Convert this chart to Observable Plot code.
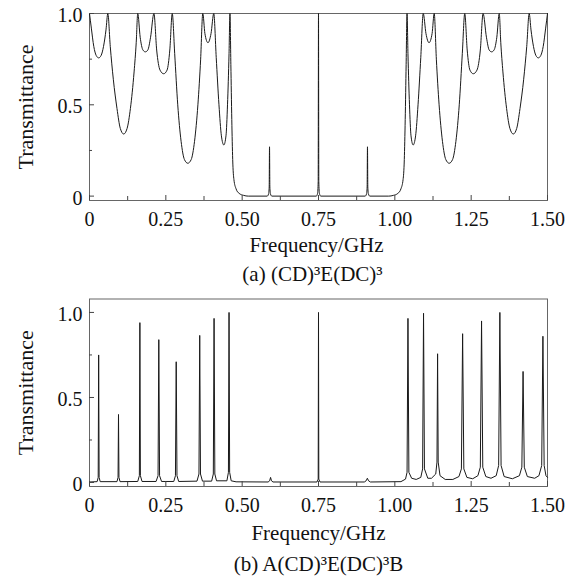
<!DOCTYPE html>
<html>
<head>
<meta charset="utf-8">
<script src="https://cdn.jsdelivr.net/npm/d3@7"></script>
<script src="https://cdn.jsdelivr.net/npm/@observablehq/plot@0.6"></script>
<style>
  html, body { margin: 0; padding: 0; background: #fff; }
  #chart svg { display: block; font-family: "Liberation Serif", "Times New Roman", serif !important; }
  #chart svg text { font-family: "Liberation Serif", "Times New Roman", serif !important; }
</style>
</head>
<body>
<div id="chart"></div>
<script>
// ---------- data ----------
// Panel (a): (CD)^3E(DC)^3 transmittance spectrum
const freqA = [
  0.000,0.006,0.014,0.022,0.030,0.038,0.046,0.054,0.060,
  0.068,0.078,0.090,0.101,0.112,0.123,0.134,0.146,0.153,0.158,
  0.166,0.175,0.183,0.191,0.200,0.211,
  0.220,0.231,0.243,0.254,0.263,0.271,
  0.279,0.289,0.300,0.311,0.322,0.333,0.344,0.355,0.364,0.371,
  0.378,0.388,0.398,0.407,
  0.415,0.424,0.432,0.440,0.447,0.452,0.457,0.460,
  0.463,0.466,0.469,0.473,0.480,0.490,0.505,0.520,
  0.582,0.5865,0.5885,0.5896,0.5907,0.5927,0.597,
  0.743,0.747,0.749,0.750,0.751,0.753,0.757,
  0.903,0.9073,0.9093,0.9104,0.9115,0.9135,0.918,
  0.980,0.995,1.010,1.020,1.027,1.031,1.034,1.037,1.040,
  1.043,1.048,1.053,1.060,1.068,1.076,1.085,1.093,
  1.102,1.112,1.122,1.129,
  1.136,1.145,1.156,1.167,1.178,1.189,1.200,1.211,1.221,1.229,
  1.237,1.246,1.257,1.269,1.280,1.289,
  1.300,1.309,1.317,1.325,1.334,1.342,
  1.347,1.354,1.366,1.377,1.388,1.399,1.410,1.422,1.432,1.440,
  1.446,1.454,1.462,1.470,1.478,1.486,1.494,1.500
];
const transA = [
  1.00,0.92,0.82,0.77,0.757,0.77,0.82,0.91,1.00,
  0.82,0.64,0.48,0.37,0.34,0.37,0.48,0.68,0.84,1.00,
  0.87,0.80,0.79,0.80,0.87,1.00,
  0.80,0.69,0.67,0.69,0.80,1.00,
  0.78,0.50,0.30,0.20,0.18,0.20,0.30,0.50,0.75,1.00,
  0.89,0.84,0.89,1.00,
  0.76,0.50,0.33,0.28,0.33,0.50,0.78,1.00,
  0.72,0.42,0.20,0.09,0.04,0.015,0.004,0.0,
  0.0,0.012,0.05,0.27,0.05,0.012,0.0,
  0.0,0.015,0.08,1.00,0.08,0.015,0.0,
  0.0,0.012,0.05,0.27,0.05,0.012,0.0,
  0.0,0.004,0.015,0.04,0.09,0.20,0.42,0.72,1.00,
  0.78,0.50,0.33,0.28,0.33,0.50,0.76,1.00,
  0.89,0.84,0.89,1.00,
  0.75,0.50,0.30,0.20,0.18,0.20,0.30,0.50,0.78,1.00,
  0.80,0.69,0.67,0.69,0.80,1.00,
  0.87,0.80,0.79,0.80,0.87,1.00,
  0.84,0.68,0.48,0.37,0.34,0.37,0.48,0.64,0.82,1.00,
  0.91,0.82,0.77,0.757,0.77,0.82,0.92,1.00
];

// Panel (b): A(CD)^3E(DC)^3B transmittance spectrum
const freqB = [
  0.000,0.025,0.0285,0.030,0.0315,0.035,
  0.090,0.0935,0.095,0.0965,0.100,
  0.158,0.1633,0.165,0.1667,0.172,
  0.218,0.2245,0.227,0.2295,0.236,
  0.276,0.2815,0.284,0.2865,0.292,
  0.352,0.3585,0.361,0.3635,0.370,
  0.400,0.4055,0.408,0.4105,0.416,
  0.450,0.455,0.457,0.459,0.464,
  0.480,0.585,0.590,0.593,0.596,0.601,
  0.745,0.749,0.750,0.751,0.755,
  0.900,0.906,0.910,0.914,0.920,
  1.020,1.035,1.040,1.043,1.046,1.055,
  1.070,1.085,1.091,1.094,1.097,1.108,
  1.120,1.134,1.138,1.140,1.142,1.148,
  1.165,1.190,1.210,1.218,1.222,1.226,1.236,
  1.255,1.272,1.280,1.284,1.288,1.298,
  1.315,1.332,1.340,1.344,1.348,1.358,
  1.385,1.408,1.416,1.420,1.424,1.434,
  1.458,1.472,1.481,1.485,1.489,1.495,1.500
];
const transB = [
  0.003,0.005,0.03,0.75,0.03,0.005,
  0.005,0.03,0.40,0.03,0.005,
  0.006,0.04,0.94,0.04,0.006,
  0.006,0.04,0.84,0.04,0.006,
  0.006,0.04,0.71,0.04,0.006,
  0.008,0.05,0.865,0.05,0.008,
  0.008,0.05,0.965,0.05,0.01,
  0.01,0.06,1.00,0.06,0.01,
  0.004,0.003,0.01,0.03,0.01,0.003,
  0.003,0.02,1.00,0.02,0.003,
  0.003,0.01,0.025,0.01,0.003,
  0.005,0.02,0.06,0.965,0.06,0.025,
  0.018,0.03,0.08,0.995,0.08,0.025,
  0.025,0.05,0.12,0.757,0.12,0.04,
  0.018,0.018,0.035,0.08,0.875,0.08,0.03,
  0.022,0.04,0.09,0.95,0.09,0.035,
  0.025,0.04,0.10,1.00,0.10,0.035,
  0.022,0.04,0.09,0.653,0.09,0.035,
  0.025,0.04,0.10,0.86,0.10,0.04,0.03
];

// Axes
const xTickValues = [0, 0.25, 0.5, 0.75, 1.0, 1.25, 1.5];
const xTickLabels = ["0", "0.25", "0.50", "0.75", "1.00", "1.25", "1.50"];
const xMinorTicks = [0.125, 0.375, 0.625, 0.875, 1.125, 1.375];
const yTickValues = [0, 0.5, 1.0];
const yTickLabels = ["0", "0.5", "1.0"];
const yMinorTicks = [0.25, 0.75];
const xTitle = "Frequency/GHz";
const yTitle = "Transmittance";
const captionA = "(a) (CD)³E(DC)³";
const captionB = "(b) A(CD)³E(DC)³B";

// ---------- drawing ----------
const xFmt = new Map(xTickValues.map((v, i) => [v, xTickLabels[i]]));
const yFmt = new Map(yTickValues.map((v, i) => [v, yTickLabels[i]]));
const rowsA = freqA.map((f, i) => ({f, t: transA[i]}));
const rowsB = freqB.map((f, i) => ({f, t: transB[i]}));
const FONT = "Liberation Serif, Times New Roman, serif";

function panel({rows, curve, height, marginTop, marginBottom, yDomain, caption, capDy, capDx, titleDy, titleDx}) {
  return Plot.plot({
    width: 581,
    height,
    marginLeft: 89,
    marginRight: 34,
    marginTop,
    marginBottom,
    style: {fontFamily: FONT, fontSize: "20px", color: "#111", background: "#fff", overflow: "visible"},
    x: {domain: [0, 1.5]},
    y: {domain: yDomain},
    marks: [
      Plot.frame({stroke: "#666"}),
      Plot.line(rows, {x: "f", y: "t", curve, stroke: "#1a1a1a", strokeWidth: 1}),
      // inward ticks
      Plot.axisX({ticks: xTickValues, tickSize: 5, dy: -5, fill: "none", stroke: "#444"}),
      Plot.axisX({ticks: xMinorTicks, tickSize: 4, dy: -4, fill: "none", stroke: "#444"}),
      Plot.axisY({ticks: yTickValues, tickSize: 5, dx: 5, fill: "none", stroke: "#444"}),
      Plot.axisY({ticks: yMinorTicks, tickSize: 3, dx: 3, fill: "none", stroke: "#444"}),
      // tick labels
      Plot.axisX({ticks: xTickValues, tickSize: 0, tickPadding: 11, stroke: "none", fill: "#111",
                  tickFormat: d => xFmt.get(d), label: null, fontSize: 20, fontFamily: FONT}),
      Plot.axisY({ticks: yTickValues, tickSize: 0, tickPadding: 7, dy: 2, stroke: "none", fill: "#111",
                  tickFormat: d => yFmt.get(d), label: null, fontSize: 20, fontFamily: FONT}),
      // titles
      Plot.text([yTitle], {frameAnchor: "left", text: d => d, rotate: -90, dx: -64,
                           textAnchor: "middle", lineAnchor: "middle", fontSize: 22, fontFamily: FONT, fill: "#111"}),
      Plot.text([xTitle], {frameAnchor: "bottom", text: d => d, dy: titleDy, dx: titleDx,
                           textAnchor: "middle", lineAnchor: "middle", fontSize: 21, fontFamily: FONT, fill: "#111"}),
      Plot.text([caption], {frameAnchor: "bottom", text: d => d, dy: capDy, dx: capDx,
                            textAnchor: "middle", lineAnchor: "middle", fontSize: 21, fontFamily: FONT, fill: "#111"})
    ]
  });
}

const chart = document.getElementById("chart");
chart.append(panel({
  rows: rowsA, curve: "monotone-x", height: 290, marginTop: 13, marginBottom: 90,
  yDomain: [-0.024, 1.0], caption: captionA, capDy: 74, capDx: -6, titleDy: 45, titleDx: -2
}));
chart.append(panel({
  rows: rowsB, curve: "linear", height: 293, marginTop: 8.5, marginBottom: 97,
  yDomain: [-0.0235, 1.079], caption: captionB, capDy: 78, capDx: 0, titleDy: 47, titleDx: 0
}));
</script>
</body>
</html>
